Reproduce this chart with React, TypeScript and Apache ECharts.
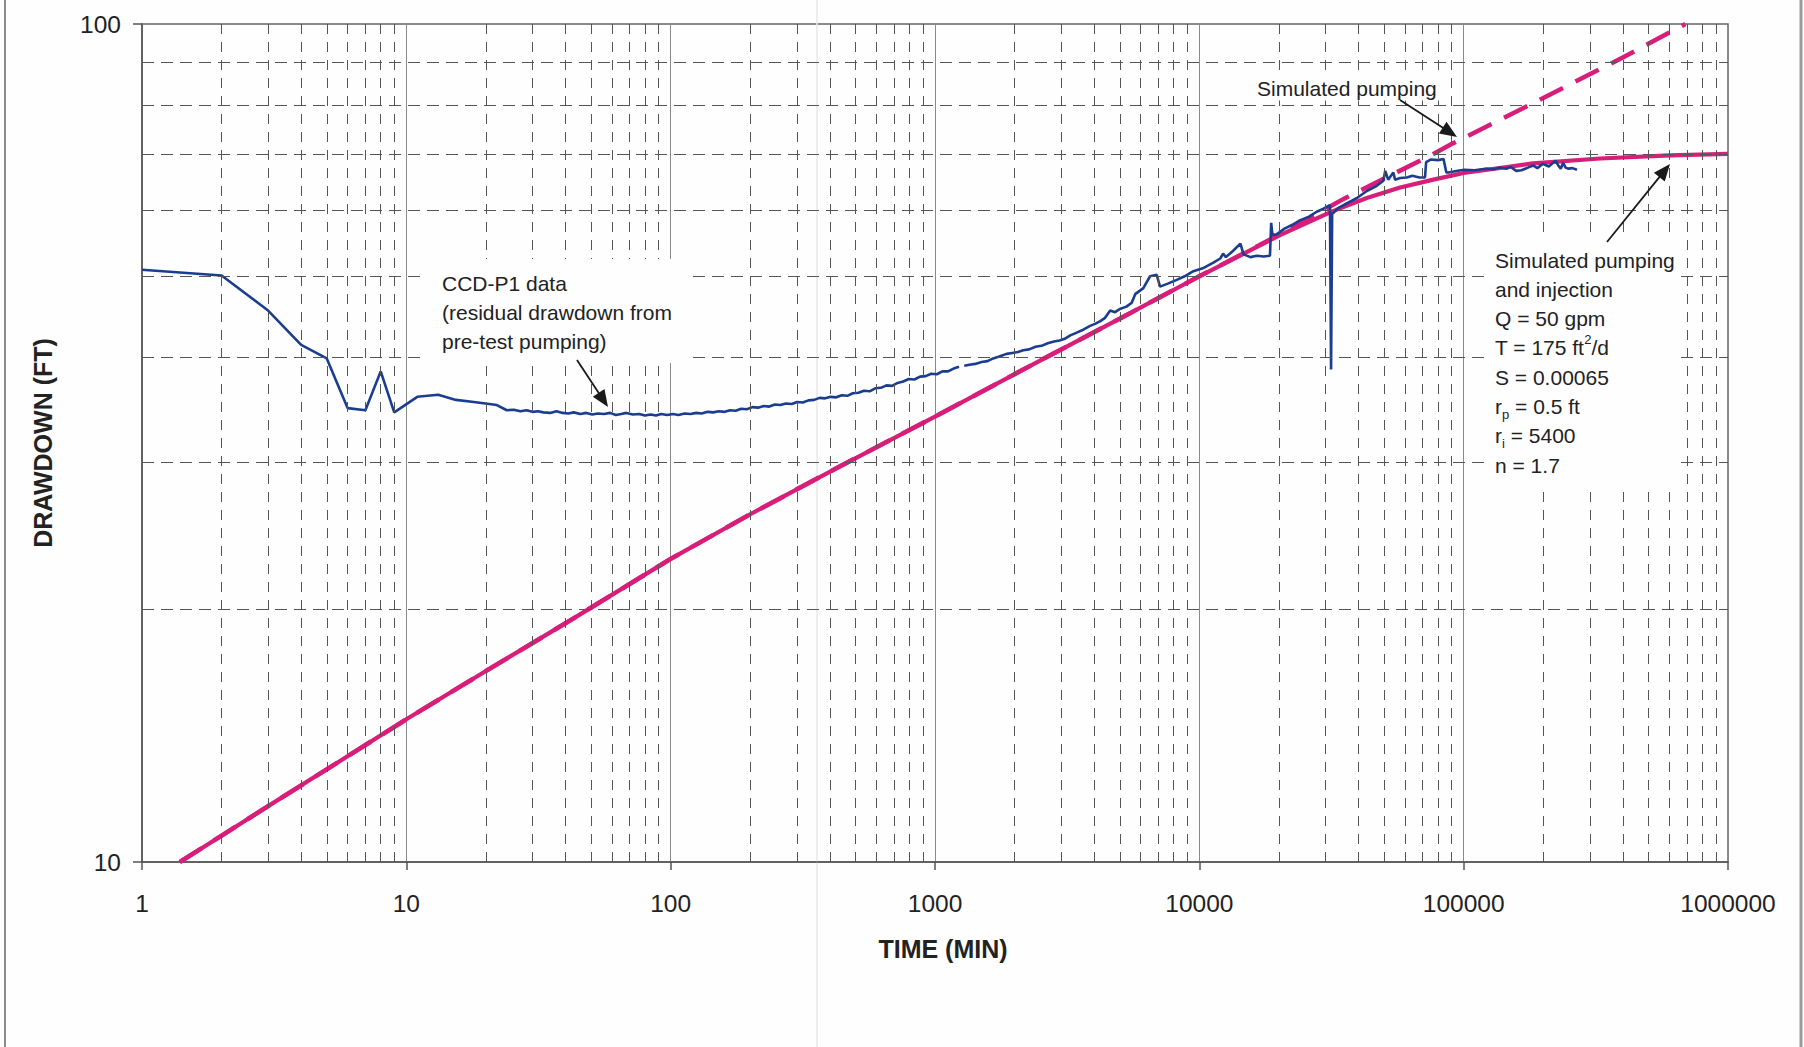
import React, { useEffect, useRef } from "react";
import * as echarts from "echarts";

const FONT = "'Liberation Sans', Arial, Helvetica, sans-serif";

// Axis tick labels
const timeDecadeLabels = ["1", "10", "100", "1000", "10000", "100000", "1000000"];
const drawdownDecadeLabels = ["10", "100"];
// Minor log-paper grid positions
const gridMantissas = [2, 3, 4, 5, 6, 7, 8, 9];
const gridDecades = [1, 10, 100, 1000, 10000, 100000];
const drawdownMinorGrid = [20, 30, 40, 50, 60, 70, 80, 90];

// CCD-P1 observed data (time in min, drawdown in ft)
const dataTime = [
  1, 2, 3, 4, 5, 6, 7, 8, 9, 11, 13.2, 15.4, 18, 22, 24,
  25.5, 27, 28.5, 30, 31.5, 33, 35, 37, 39, 41, 43, 45.5, 48, 50.5, 53, 56, 59, 62, 65, 68, 72, 76, 80, 84, 88, 92, 97,
  102, 107, 113, 119, 125, 131, 138, 145, 152, 160, 168, 176, 185, 194, 204, 214, 225, 236, 248, 260, 273, 287, 301, 316,
  332, 349, 366, 384, 403, 423, 444, 466, 489, 513, 539, 566, 594, 624, 655, 688, 722, 758, 796, 836, 878, 922, 968, 1016,
  1067, 1120, 1176, 1233,
  1260,
  1290, 1350, 1420, 1500, 1580, 1660, 1750, 1866, 1960, 2060, 2157, 2270, 2400, 2530, 2670, 2820, 2960, 3094, 3250, 3420,
  3600, 3844, 4050, 4220, 4400, 4600, 4800, 5000, 5300, 5550, 5720, 6140, 6510, 6900, 7100, 7600, 8210, 8800, 9490, 10300,
  11300, 12000, 12300, 12600, 13400, 14300, 14700, 15600, 16500, 17500, 18500, 18700, 18900, 19600, 21000, 22500, 24000,
  26000, 27800, 29500, 31200, 31500, 31800, 33500, 36100, 39500, 43000, 46500, 49700, 50500, 51800, 54200, 55000, 57500,
  60900, 64000, 68000, 71400, 72100, 75000, 80000, 83900, 86000, 87600, 95000, 100700, 110000, 121000, 130000, 137000,
  145000, 150700, 158000, 165500, 175000, 183000, 190000, 199500, 210000, 222600, 228000, 233000, 238000, 243000, 248300,
  258000, 268300,
];
const dataDrawdown = [
  50.9, 50.1, 45.5, 41.4, 39.9, 34.8, 34.6, 38.5, 34.4, 35.9, 36.1, 35.6, 35.4, 35.1, 34.6,
  34.65, 34.5, 34.6, 34.45, 34.5, 34.4, 34.35, 34.5, 34.35, 34.3, 34.4, 34.25, 34.35, 34.2, 34.3, 34.25, 34.35, 34.15,
  34.25, 34.35, 34.2, 34.25, 34.1, 34.2, 34.1, 34.25, 34.15,
  34.25, 34.15, 34.3, 34.25, 34.35, 34.3, 34.45, 34.4, 34.5, 34.45, 34.6, 34.55, 34.75, 34.7, 34.9, 34.85, 35.0, 34.95,
  35.15, 35.1, 35.25, 35.2, 35.4, 35.35, 35.55, 35.6, 35.8, 35.75, 35.9, 35.85, 36.05, 36.0, 36.25, 36.3, 36.5, 36.45,
  36.75, 36.8, 37.05, 37.0, 37.3, 37.45, 37.7, 37.65, 37.95, 38.0, 38.25, 38.2, 38.5, 38.5, 38.8, 39.0,
  null,
  39.1, 39.2, 39.3, 39.5, 39.6, 39.9, 40.1, 40.4, 40.5, 40.6, 40.8, 40.9, 41.2, 41.3, 41.6, 41.8, 41.9, 42.1, 42.5, 42.8,
  43.1, 43.6, 43.9, 44.2, 44.6, 45.5, 45.3, 45.7, 46.0, 46.5, 47.6, 48.4, 50.0, 50.2, 48.6, 49.0, 49.5, 50.0, 50.7, 51.1,
  51.9, 52.5, 53.2, 52.7, 53.6, 54.7, 53.1, 52.7, 52.9, 52.8, 52.9, 57.9, 56.0, 56.1, 57.0, 57.6, 58.3,
  58.9, 59.7, 60.2, 60.8, 38.7, 59.3, 60.3, 61.1, 62.0, 63.2, 64.0, 65.0, 66.8, 65.2, 66.5, 65.2, 65.5,
  65.6, 65.9, 65.6, 65.6, 68.4, 68.9, 68.8, 69.0, 66.5, 66.5, 66.8, 67.0, 66.9, 67.2, 67.1, 67.4,
  67.2, 67.5, 66.8, 66.9, 67.4, 67.8, 67.3, 68.1, 67.6, 68.7, 67.8, 67.2, 68.3, 67.4, 67.2,
  67.3, 67.0,
];

// Simulated pumping and injection (solid)
const pumpInjTime = [1.39, 2, 3, 5, 10, 20, 42, 100, 200, 423, 1000, 2550, 5000, 10000, 20000, 24000, 32000, 43000, 57500, 76800, 100000, 183000, 328000, 604000, 1000000];
const pumpInjDrawdown = [10, 10.75, 11.66, 12.9, 14.8, 16.9, 19.45, 23.0, 26.0, 29.5, 34.0, 39.8, 44.5, 50.0, 55.9, 57.4, 59.8, 62.0, 63.8, 65.2, 66.4, 68.2, 69.1, 69.7, 70.0];

// Simulated pumping only (dashed)
const pumpTime = [1.39, 2, 3, 5, 10, 20, 42, 100, 200, 423, 1000, 2550, 5000, 10000, 20000, 35000, 50000, 72500, 90000, 200000, 400000, 690000];
const pumpDrawdown = [10, 10.75, 11.66, 12.9, 14.8, 16.9, 19.45, 23.0, 26.0, 29.5, 34.0, 39.8, 44.5, 50.0, 56.0, 61.8, 65.4, 69.3, 71.9, 81.6, 91.2, 100];

const pair = (xs: number[], ys: (number | null)[]) => xs.map((x, i) => [x, ys[i] == null ? null : ys[i]]);

function arrow(x1: number, y1: number, x2: number, y2: number, head = 17, half = 7) {
  const dx = x2 - x1, dy = y2 - y1;
  const L = Math.hypot(dx, dy);
  const ux = dx / L, uy = dy / L;
  const bx = x2 - ux * head, by = y2 - uy * head;
  return [
    { type: "line", z: 110, shape: { x1, y1, x2: bx + ux * 2, y2: by + uy * 2 }, style: { stroke: "#1a1a1a", lineWidth: 1.8 } },
    {
      type: "polygon", z: 110,
      shape: { points: [[x2, y2], [bx - uy * half, by + ux * half], [bx + uy * half, by - ux * half]] },
      style: { fill: "#1a1a1a" },
    },
  ];
}

export default function App() {
  const ref = useRef<HTMLDivElement>(null);
  useEffect(() => {
    if (!ref.current) return;
    const chart = echarts.init(ref.current, null, { renderer: "svg" });

    const minorTimes: number[] = [];
    gridDecades.forEach((d) => gridMantissas.forEach((m) => minorTimes.push(m * d)));

    const option: any = {
      animation: false,
      backgroundColor: "#fefefe",
      textStyle: { fontFamily: FONT },
      grid: { left: 142, right: 76, top: 24, bottom: 185, show: true, borderColor: "#666", borderWidth: 1.5 },
      xAxis: {
        type: "log", logBase: 10, min: 1, max: 1000000,
        name: "TIME (MIN)", nameLocation: "middle", nameGap: 74,
        nameTextStyle: { fontSize: 25, fontWeight: "bold", color: "#222", fontFamily: FONT, padding: [0, 0, 0, 16] },
        axisLine: { show: true, lineStyle: { color: "#555", width: 1.5 } },
        axisTick: { show: true, inside: false, length: 8, lineStyle: { color: "#555", width: 1.5 } },
        axisLabel: {
          fontSize: 24.5, color: "#222", margin: 29, fontFamily: FONT,
          formatter: (v: number) => timeDecadeLabels[Math.round(Math.log10(v))] ?? "",
        },
        splitLine: { show: true, lineStyle: { color: "#8a8a8a", width: 1 } },
        minorTick: { show: false }, minorSplitLine: { show: false },
      },
      yAxis: {
        type: "log", logBase: 10, min: 10, max: 100,
        name: "DRAWDOWN (FT)", nameLocation: "middle", nameRotate: 90, nameGap: 87,
        nameTextStyle: { fontSize: 25, fontWeight: "bold", color: "#222", fontFamily: FONT },
        axisLine: { show: true, lineStyle: { color: "#555", width: 1.5 } },
        axisTick: { show: true, inside: false, length: 9, lineStyle: { color: "#555", width: 1.5 } },
        axisLabel: {
          fontSize: 24.5, color: "#222", margin: 21, fontFamily: FONT,
          formatter: (v: number) => drawdownDecadeLabels[Math.round(Math.log10(v)) - 1] ?? "",
        },
        splitLine: { show: false },
      },
      series: [
        {
          type: "line", name: "grid", data: [], silent: true, z: 1,
          markLine: {
            silent: true, symbol: ["none", "none"], label: { show: false }, animation: false,
            emphasis: { disabled: true },
            data: [
              ...minorTimes.map((t) => ({ xAxis: t, lineStyle: { type: [10, 8], color: "#555", width: 1 } })),
              ...drawdownMinorGrid.map((v) => ({ yAxis: v, lineStyle: { type: [12, 7], color: "#555", width: 1 } })),
            ],
          },
        },
        {
          type: "line", name: "Simulated pumping", data: pair(pumpTime, pumpDrawdown), z: 3,
          showSymbol: false, symbol: "none",
          lineStyle: { color: "#d81e79", width: 4.5, type: [26, 14] },
        },
        {
          type: "line", name: "Simulated pumping and injection", data: pair(pumpInjTime, pumpInjDrawdown), z: 3,
          showSymbol: false, symbol: "none",
          lineStyle: { color: "#d81e79", width: 4.2 },
        },
        {
          type: "line", name: "CCD-P1 data", data: pair(dataTime, dataDrawdown), z: 4,
          showSymbol: false, symbol: "none", connectNulls: false,
          lineStyle: { color: "#1b3d8f", width: 2.6 },
        },
      ],
      graphic: [
        // scan page edges / fold
        { type: "line", z: 0, shape: { x1: 5, y1: 0, x2: 5, y2: 1047 }, style: { stroke: "#8c8c8c", lineWidth: 2 } },
        { type: "line", z: 0, shape: { x1: 1801, y1: 0, x2: 1801, y2: 1047 }, style: { stroke: "#9a9a9a", lineWidth: 3 } },
        { type: "line", z: 0, shape: { x1: 817, y1: 0, x2: 817, y2: 1047 }, style: { stroke: "#e8e8e8", lineWidth: 1.5 } },
        // white text boxes
        { type: "rect", z: 100, shape: { x: 420, y: 259, width: 272, height: 104 }, style: { fill: "#fefefe" } },
        { type: "rect", z: 100, shape: { x: 1487, y: 235, width: 191, height: 252 }, style: { fill: "#fefefe" } },
        {
          type: "text", z: 105, x: 442, y: 268.5,
          style: {
            text: "CCD-P1 data\n(residual drawdown from\npre-test pumping)",
            fontSize: 21, fontFamily: FONT, fill: "#222", lineHeight: 29,
            align: "left", verticalAlign: "top",
          },
        },
        {
          type: "text", z: 105, x: 1254, y: 88,
          style: {
            text: "Simulated pumping", fontSize: 21, fontFamily: FONT, fill: "#222",
            align: "left", verticalAlign: "middle", backgroundColor: "#fefefe", padding: [2, 3],
          },
        },
        {
          type: "text", z: 105, x: 1495, y: 245.4,
          style: {
            text: [
              "Simulated pumping",
              "and injection",
              "Q = 50 gpm",
              "T = 175 ft{sup|2}/d",
              "S = 0.00065",
              "r{sub|p} = 0.5 ft",
              "r{sub|i} = 5400",
              "n = 1.7",
            ].join("\n"),
            fontSize: 21, fontFamily: FONT, fill: "#222", lineHeight: 29.3,
            align: "left", verticalAlign: "top",
            rich: {
              sup: { fontSize: 13, fontFamily: FONT, fill: "#222", lineHeight: 14, verticalAlign: "top" },
              sub: { fontSize: 13, fontFamily: FONT, fill: "#222", lineHeight: 14, verticalAlign: "bottom" },
            },
          },
        },
        ...arrow(577, 360, 608, 407),
        ...arrow(1400, 100, 1457, 137),
        ...arrow(1607, 242, 1670, 164),
      ],
    };
    chart.setOption(option);
    return () => chart.dispose();
  }, []);
  return <div ref={ref} style={{ position: "absolute", left: 0, top: 0, width: 1804, height: 1047 }} />;
}
